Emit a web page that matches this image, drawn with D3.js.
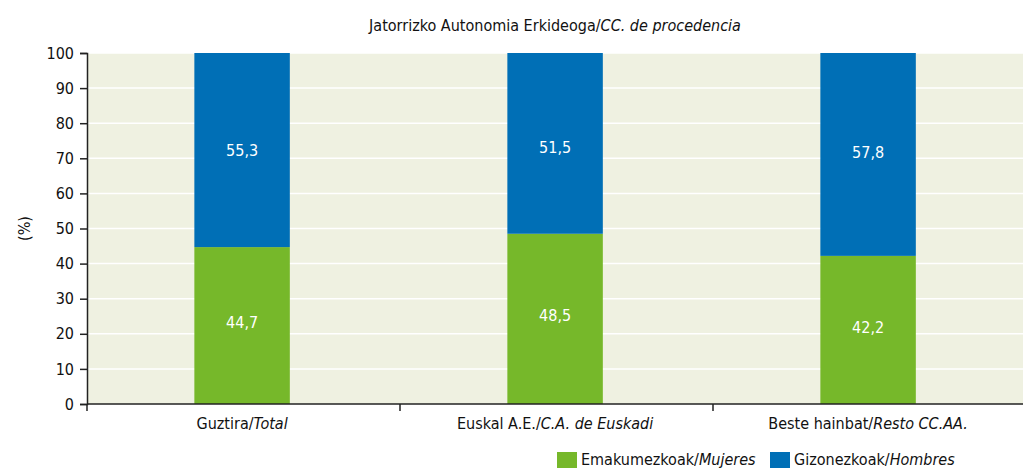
<!DOCTYPE html>
<html>
<head>
<meta charset="utf-8">
<script src="https://cdn.jsdelivr.net/npm/d3@7"></script>
<style>
  body { margin: 0; background: #fff; }
  svg { display: block; font-family: "DejaVu Sans Condensed", "Liberation Sans Narrow", sans-serif; }
</style>
</head>
<body>
<svg id="chart" width="1023" height="468"></svg>
<script>
// data
const categories = ['Guztira/', 'Euskal A.E./', 'Beste hainbat/'];
const categoriesEs = ['Total', 'C.A. de Euskadi', 'Resto CC.AA.'];
const mujeres = [44.7, 48.5, 42.2];
const hombres = [55.3, 51.5, 57.8];
const yTicks = [0, 10, 20, 30, 40, 50, 60, 70, 80, 90, 100];

const greenColor = '#76b82a';
const blueColor = '#006fb6';
const plotBg = '#eff1e1';
const fontFam = '"DejaVu Sans Condensed", "Liberation Sans Narrow", sans-serif';

const svg = d3.select('#chart');
const margin = { left: 87, top: 53, bottom: 404 };
const plotRight = 1023;

const x = d3.scaleBand()
  .domain(categories)
  .range([margin.left, margin.left + 313 * 3])
  .padding(0);

const y = d3.scaleLinear()
  .domain([0, 100])
  .range([margin.bottom, margin.top]);

const barW = x.bandwidth() * 0.305;
const barX = c => x(c) + x.bandwidth() * 0.343;

// plot background
svg.append('rect')
  .attr('x', margin.left)
  .attr('y', y(100))
  .attr('width', plotRight - margin.left)
  .attr('height', y(0) - y(100))
  .attr('fill', plotBg);

// gridlines
svg.append('g')
  .selectAll('line')
  .data(yTicks.filter(d => d > 0))
  .join('line')
  .attr('x1', margin.left)
  .attr('x2', plotRight)
  .attr('y1', d => y(d))
  .attr('y2', d => y(d))
  .attr('stroke', '#fff')
  .attr('stroke-width', 1.5);

// stacked bars
const stack = categories.map((c, i) => ({ cat: c, m: mujeres[i], h: hombres[i] }));

svg.append('g')
  .selectAll('rect')
  .data(stack)
  .join('rect')
  .attr('x', d => barX(d.cat))
  .attr('y', d => y(d.m))
  .attr('width', barW)
  .attr('height', d => y(0) - y(d.m))
  .attr('fill', greenColor);

svg.append('g')
  .selectAll('rect')
  .data(stack)
  .join('rect')
  .attr('x', d => barX(d.cat))
  .attr('y', d => y(d.m + d.h))
  .attr('width', barW)
  .attr('height', d => y(d.m) - y(d.m + d.h))
  .attr('fill', blueColor);

// value labels
const fmt = v => v.toFixed(1).replace('.', ',');
const labels = svg.append('g')
  .attr('fill', '#fff')
  .attr('font-size', 16)
  .attr('text-anchor', 'middle');

stack.forEach(d => {
  const cx = barX(d.cat) + barW / 2;
  labels.append('text')
    .attr('x', cx)
    .attr('y', y(d.m / 2) - 3)
    .attr('dy', '0.35em')
    .text(fmt(d.m));
  labels.append('text')
    .attr('x', cx)
    .attr('y', (y(d.m + d.h / 2) + y(72)) / 2)
    .attr('dy', '0.35em')
    .text(fmt(d.h));
});

// y axis
const yAxis = svg.append('g')
  .attr('transform', `translate(${margin.left},0)`)
  .call(d3.axisLeft(y).tickValues(yTicks).tickSize(7).tickPadding(6));
yAxis.select('.domain').attr('stroke', '#222').attr('stroke-width', 1.5);
yAxis.selectAll('.tick line').attr('stroke', '#222').attr('stroke-width', 1.5);
yAxis.selectAll('.tick text').attr('font-size', 16).attr('fill', '#111')
  .attr('font-family', fontFam);

// x axis
const xAxis = svg.append('g')
  .attr('transform', `translate(0,${margin.bottom})`);
xAxis.append('line')
  .attr('x1', margin.left).attr('x2', plotRight)
  .attr('stroke', '#222').attr('stroke-width', 1.5);
xAxis.selectAll('line.tk')
  .data(categories)
  .join('line')
  .attr('class', 'tk')
  .attr('x1', d => x(d)).attr('x2', d => x(d))
  .attr('y1', 0).attr('y2', 7)
  .attr('stroke', '#222').attr('stroke-width', 1.5);

categories.forEach((c, i) => {
  const t = xAxis.append('text')
    .attr('x', barX(c) + barW / 2)
    .attr('y', 25)
    .attr('text-anchor', 'middle')
    .attr('font-size', 16)
    .attr('fill', '#111');
  t.append('tspan').text(c);
  t.append('tspan').attr('font-style', 'italic').text(categoriesEs[i]);
});

// y label
svg.append('text')
  .attr('transform', `translate(30,${y(50)}) rotate(-90)`)
  .attr('text-anchor', 'middle')
  .attr('font-size', 16)
  .attr('fill', '#111')
  .text('(%)');

// title
const title = svg.append('text')
  .attr('x', 555)
  .attr('y', 31)
  .attr('text-anchor', 'middle')
  .attr('font-size', 16)
  .attr('fill', '#111');
title.append('tspan').text('Jatorrizko Autonomia Erkideoga/');
title.append('tspan').attr('font-style', 'italic').text('CC. de procedencia');

// legend
const legendItems = [
  { color: greenColor, eu: 'Emakumezkoak/', es: 'Mujeres', x: 557 },
  { color: blueColor, eu: 'Gizonezkoak/', es: 'Hombres', x: 770 }
];
const legend = svg.append('g');
legendItems.forEach(d => {
  legend.append('rect')
    .attr('x', d.x).attr('y', 452)
    .attr('width', 20).attr('height', 16)
    .attr('fill', d.color);
  const t = legend.append('text')
    .attr('x', d.x + 24)
    .attr('y', 465)
    .attr('font-size', 16)
    .attr('fill', '#111');
  t.append('tspan').text(d.eu);
  t.append('tspan').attr('font-style', 'italic').text(d.es);
});
</script>
</body>
</html>
